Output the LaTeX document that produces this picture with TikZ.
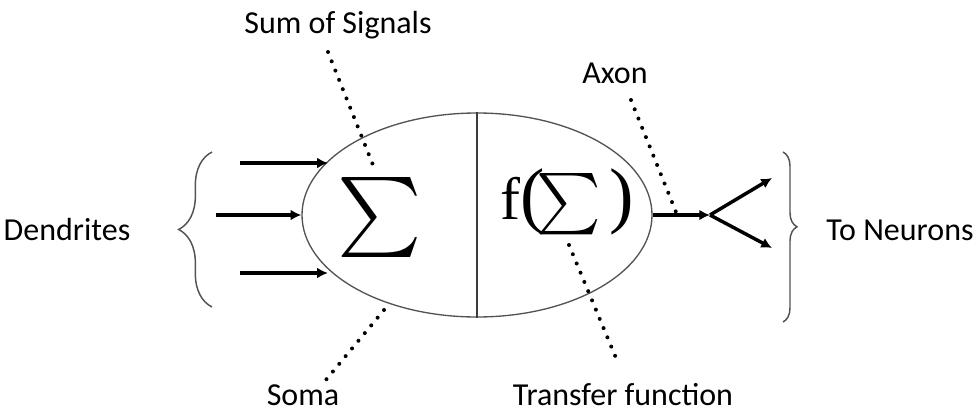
\documentclass[tikz,border=0pt]{standalone}
\usepackage{graphicx}
\usepackage{pdfrender}
\usepackage{fontspec}
\setmainfont{Carlito}
\newfontfamily\serifgreek{Liberation Serif}
\usepackage{tikz}
\usetikzlibrary{arrows.meta,calc,shapes.geometric,decorations.pathreplacing}

\begin{document}
\begin{tikzpicture}[x=0.75pt,y=-0.75pt,>=Stealth,
    every node/.style={font=\fontsize{24}{28}\selectfont, inner sep=0pt},
    signal/.style={line width=2.6pt, -{Latex[length=8pt,width=8pt]}},
    pointer/.style={line width=3pt, line cap=round, dash pattern=on 0pt off 7.5pt},
    bracket/.style={draw=ink!75, line width=1.1pt, decorate, decoration={brace, amplitude=#1}}]
  \definecolor{ink}{HTML}{1A1A1A}
  \newcommand{\bigsum}[1]{\scalebox{#1}{\normalsize\textpdfrender{TextRenderingMode=FillStroke,LineWidth=0.4pt}{$\sum$}}}
  \newcommand{\serifsz}[1]{\serifgreek\fontsize{#1}{#1}\selectfont}
  \useasboundingbox (0,0) rectangle (979,414);
  \node[ellipse, draw=ink!75, line width=1pt, minimum width=262.5pt, minimum height=153pt] (soma) at (477,215) {};
  \draw[ink!85, line width=1pt] (soma.north) -- (soma.south);
  \node (sumsym) at (380,217) {\bigsum{6}};
  \node[anchor=base west] (transfer) at (500,219)
    {{\serifsz{45}f}{\serifsz{55}(}\kern-6pt\bigsum{4.6}\kern6pt{\serifsz{55})}};
  \coordinate (d1) at (240,163);
  \coordinate (d2) at (216,215);
  \coordinate (d3) at (240,273);
  \draw[signal] (d1) -- (d1 -| soma.160);
  \draw[signal] (d2) -- (soma.west);
  \draw[signal] (d3) -- (d3 -| soma.200);
  \coordinate (fork) at (710,215);
  \coordinate (n1) at (772,178);
  \coordinate (n2) at (772,248);
  \draw[signal] (soma.east) -- (fork);
  \draw[signal] (fork) -- (n1);
  \draw[signal] (fork) -- (n2);
  \coordinate (lb1) at (212,307);
  \coordinate (lb2) at (212,152);
  \coordinate (rb1) at (783,152);
  \coordinate (rb2) at (783,322);
  \draw[bracket=25pt] (lb1) -- (lb2);
  \draw[bracket=10.5pt, decoration={aspect=0.44}] (rb1) -- (rb2);
  \node[anchor=base] (sumlbl) at (338,33) {Sum of Signals};
  \node[anchor=base] (axonlbl) at (615,83) {Axon};
  \node[anchor=base] (dendlbl) at (67,240) {Dendrites};
  \node[anchor=base] (outlbl) at (900,240) {To Neurons};
  \node[anchor=base] (somalbl) at (303,405) {Soma};
  \node[anchor=base] (tflbl) at (623,405) {Transfer function};
  \coordinate (s1) at (328,52);
  \coordinate (s2) at (373,165);
  \coordinate (a1) at (631,100);
  \coordinate (a2) at (676,212);
  \coordinate (t1) at (569,245);
  \coordinate (t2) at (616,358);
  \coordinate (o1) at (384,310);
  \coordinate (o2) at (325,381);
  \draw[pointer] (s1) -- (s2);
  \draw[pointer] (a1) -- (a2);
  \draw[pointer] (t1) -- (t2);
  \draw[pointer] (o1) -- (o2);
\end{tikzpicture}
\end{document}
